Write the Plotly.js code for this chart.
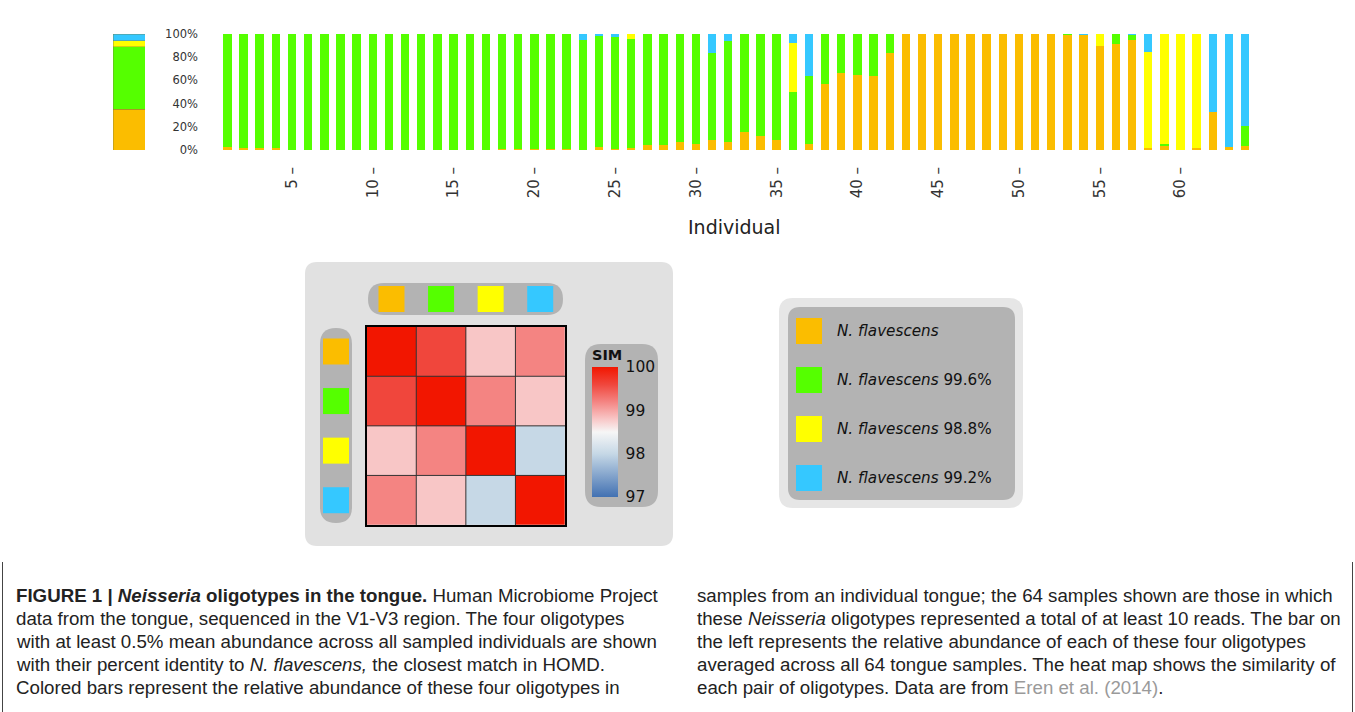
<!DOCTYPE html>
<html><head><meta charset="utf-8">
<script src="https://cdn.plot.ly/plotly-3.0.1.min.js"></script>
<style>html,body{margin:0;padding:0;background:#fff}#chart{width:1355px;height:712px}</style>
</head><body><div id="chart"></div>
<script>
const W = 1355, H = 712;

// ---------- data ----------
const individuals = [1,2,3,4,5,6,7,8,9,10,11,12,13,14,15,16,17,18,19,20,21,22,23,24,25,26,27,28,29,30,31,32,
  33,34,35,36,37,38,39,40,41,42,43,44,45,46,47,48,49,50,51,52,53,54,55,56,57,58,59,60,61,62,63,64];
const speciesName = 'N. flavescens';
const identityLabels = ['', '99.6%', '98.8%', '99.2%'];
const oligoColors = ['#FBBD00', '#55FF00', '#FFFF00', '#35C8FF'];

const orangeAbund = [2.6,2,2,2,0,0,0,0,0,0,0,0,0,0,0,0,0,0.5,0.5,0.5,0.5,0.5,0,2.6,1,2,4.3,4.3,6.6,5.5,8.3,6.6,
  15.5,12,9,0,5.2,56.6,66.4,64.6,64,83.6,100,100,100,100,100,100,100,100,100,100,99,99.4,90,91,95.1,1.5,3.4,0,1.7,33,2.6,3.2];
const greenAbund = [97.4,98,98,98,100,100,100,100,100,100,100,100,100,100,100,100,100,99.5,99.5,99.5,99.5,99.5,94.8,96,96.4,94,95.7,95.7,93.4,94.5,75.3,87.7,
  84.5,88,91,50.3,58.3,43.4,33.6,35.4,36,16.4,0,0,0,0,0,0,0,0,0,0,1,0,0,9,3.7,0,1.7,0,0,0,0,17.8];
const yellowAbund = [0,0,0,0,0,0,0,0,0,0,0,0,0,0,0,0,0,0,0,0,0,0,0,0,0,4,0,0,0,0,0,0,
  0,0,0,42.2,0,0,0,0,0,0,0,0,0,0,0,0,0,0,0,0,0,0,10,0,0,82.7,94.9,100,98.3,0,0,0];
const blueAbund = [0,0,0,0,0,0,0,0,0,0,0,0,0,0,0,0,0,0,0,0,0,0,5.2,1.4,2.6,0,0,0,0,0,16.4,5.7,
  0,0,0,7.5,36.5,0,0,0,0,0,0,0,0,0,0,0,0,0,0,0,0,0.6,0,0,1.2,15.8,0,0,0,67,97.4,79];
const meanAbund = [35, 54, 5, 6];

const xTickVals = [5,10,15,20,25,30,35,40,45,50,55,60];
const xTickText = ['5 –','10 –','15 –','20 –','25 –','30 –','35 –','40 –','45 –','50 –','55 –','60 –'];
const yTickVals = [0,20,40,60,80,100];
const yTickText = ['0%','20%','40%','60%','80%','100%'];

const simMatrix = [
  [100, 99.6, 98.8, 99.2],
  [99.6, 100, 99.2, 98.8],
  [98.8, 99.2, 100, 98.0],
  [99.2, 98.8, 98.0, 100]
];
const simTicks = [97, 98, 99, 100];

const captionLeft = [
  '<b>FIGURE 1 | <i>Neisseria</i> oligotypes in the tongue.</b> Human Microbiome Project',
  'data from the tongue, sequenced in the V1-V3 region. The four oligotypes',
  'with at least 0.5% mean abundance across all sampled individuals are shown',
  'with their percent identity to <i>N. flavescens,</i> the closest match in HOMD.',
  'Colored bars represent the relative abundance of these four oligotypes in'
];
const captionRight = [
  'samples from an individual tongue; the 64 samples shown are those in which',
  'these <i>Neisseria</i> oligotypes represented a total of at least 10 reads. The bar on',
  'the left represents the relative abundance of each of these four oligotypes',
  'averaged across all 64 tongue samples. The heat map shows the similarity of',
  'each pair of oligotypes. Data are from <span style="color:#9a9a9a">Eren et al. (2014)</span>.'
];

// ---------- helpers ----------
const px = v => v / W;
const py = v => 1 - v / H;
function rr(x0, y0, x1, y1, r) {
  const X = v => px(v).toFixed(5), Y = v => py(v).toFixed(5);
  return `M ${X(x0 + r)},${Y(y0)} L ${X(x1 - r)},${Y(y0)} Q ${X(x1)},${Y(y0)} ${X(x1)},${Y(y0 + r)} ` +
    `L ${X(x1)},${Y(y1 - r)} Q ${X(x1)},${Y(y1)} ${X(x1 - r)},${Y(y1)} L ${X(x0 + r)},${Y(y1)} ` +
    `Q ${X(x0)},${Y(y1)} ${X(x0)},${Y(y1 - r)} L ${X(x0)},${Y(y0 + r)} Q ${X(x0)},${Y(y0)} ${X(x0 + r)},${Y(y0)} Z`;
}
function panel(x0, y0, x1, y1, r, color) {
  return { type: 'path', xref: 'paper', yref: 'paper', path: rr(x0, y0, x1, y1, r),
    fillcolor: color, line: { width: 0 }, layer: 'below' };
}
function box(x0, y0, x1, y1, color) {
  return { type: 'rect', xref: 'paper', yref: 'paper', x0: px(x0), x1: px(x1), y0: py(y1), y1: py(y0),
    fillcolor: color, line: { width: 0 }, layer: 'above' };
}

// ---------- geometry ----------
const mainL = 219.3, mainR = 1253.2, plotTop = 34, plotBot = 150;
const hmL = 366.7, hmR = 565, hmT = 326.7, hmB = 525;
const cell = (hmR - hmL) / 4;
const sw = 26;
const cbTop = 370, cbBot = 497;

const series = [orangeAbund, greenAbund, yellowAbund, blueAbund];
const traces = [];
series.forEach((vals, i) => {
  traces.push({ type: 'bar', x: individuals, y: vals, width: 0.52, marker: { color: oligoColors[i], line: { width: 0 } },
    xaxis: 'x', yaxis: 'y', showlegend: false, hoverinfo: 'x+y' });
});
meanAbund.forEach((v, i) => {
  traces.push({ type: 'bar', x: [0], y: [v], width: 1, marker: { color: oligoColors[i], line: { width: 0.6, color: 'rgba(120,120,60,0.6)' } },
    xaxis: 'x2', yaxis: 'y2', showlegend: false, hoverinfo: 'y' });
});
traces.push({
  type: 'heatmap', z: simMatrix, x: [0, 1, 2, 3], y: [0, 1, 2, 3], xaxis: 'x3', yaxis: 'y3',
  zmin: 97, zmax: 100,
  colorscale: [
    [0, 'rgb(66,113,178)'],
    [0.333, 'rgb(198,216,230)'],
    [0.5, 'rgb(246,246,246)'],
    [0.6, 'rgb(248,198,198)'],
    [0.733, 'rgb(244,132,130)'],
    [0.867, 'rgb(240,70,60)'],
    [1, 'rgb(242,22,0)']
  ],
  colorbar: {
    x: px(592), xanchor: 'left', xref: 'paper', y: py(cbBot), yanchor: 'bottom', yref: 'paper',
    len: cbBot - cbTop + 24, lenmode: 'pixels', thickness: 26, thicknessmode: 'pixels', xpad: 0, ypad: 0,
    outlinewidth: 0, borderwidth: 0, bgcolor: 'rgba(0,0,0,0)',
    tickvals: simTicks, ticks: 'outside', ticklen: 5, tickcolor: 'rgba(0,0,0,0)',
    tickfont: { family: 'DejaVu Sans', size: 15.5, color: '#111' },
    title: { text: '<b>SIM</b>', side: 'top', font: { family: 'DejaVu Sans', size: 14.5, color: '#111' } }
  },
  hoverinfo: 'z'
});

// ---------- shapes ----------
const shapes = [];
shapes.push(panel(305, 262, 673, 546, 12, '#e1e1e1'));
shapes.push(panel(368, 283, 563, 315, 16, '#b3b3b3'));
shapes.push(panel(320, 328, 352, 523, 16, '#b3b3b3'));
shapes.push(panel(585, 344, 658, 507, 16, '#b3b3b3'));
shapes.push(panel(779, 298, 1023, 508, 14, '#e6e6e6'));
shapes.push(panel(788, 307, 1015, 500, 12, '#b3b3b3'));
oligoColors.forEach((c, i) => {
  const cx = hmL + cell * (i + 0.5);
  shapes.push(box(cx - sw / 2, 286, cx + sw / 2, 312, c));
  const cy = hmT + cell * (i + 0.5);
  shapes.push(box(323, cy - sw / 2, 349, cy + sw / 2, c));
  const ly = 331 + 49 * i;
  shapes.push(box(796, ly - sw / 2, 822, ly + sw / 2, c));
});
for (let k = 0; k < simMatrix.length - 1; k++) {
  shapes.push({ type: 'line', xref: 'x3', yref: 'y3', x0: k + 0.5, x1: k + 0.5, y0: -0.5, y1: 3.5, line: { color: '#333', width: 1 } });
  shapes.push({ type: 'line', xref: 'x3', yref: 'y3', y0: k + 0.5, y1: k + 0.5, x0: -0.5, x1: 3.5, line: { color: '#333', width: 1 } });
}
// small white tick dashes inside the colour bar
simTicks.forEach(v => {
  const yy = cbBot - (v - 97) / 3 * (cbBot - cbTop);
  const yv = Math.min(Math.max(yy, cbTop + 2), cbBot - 2);
  shapes.push({ type: 'line', xref: 'paper', yref: 'paper', x0: px(593), x1: px(597), y0: py(yv), y1: py(yv), line: { color: 'rgba(255,255,255,0.8)', width: 1 } });
  shapes.push({ type: 'line', xref: 'paper', yref: 'paper', x0: px(613), x1: px(617), y0: py(yv), y1: py(yv), line: { color: 'rgba(255,255,255,0.8)', width: 1 } });
});
shapes.push({ type: 'line', xref: 'paper', yref: 'paper', x0: px(2.5), x1: px(2.5), y0: py(562), y1: 0, line: { color: '#444', width: 1 } });
shapes.push({ type: 'line', xref: 'paper', yref: 'paper', x0: px(1352.5), x1: px(1352.5), y0: py(562), y1: 0, line: { color: '#444', width: 1 } });

// ---------- annotations ----------
const annotations = [];
annotations.push({ text: 'Individual', xref: 'paper', yref: 'paper', x: px(734), y: py(227), xanchor: 'center', yanchor: 'middle',
  showarrow: false, font: { family: 'DejaVu Sans', size: 19, color: '#222' } });
identityLabels.forEach((lab, i) => {
  annotations.push({ text: '<i>' + speciesName + '</i>' + (lab ? ' ' + lab : ''), xref: 'paper', yref: 'paper',
    x: px(835), y: py(331 + 49 * i), xanchor: 'left', yanchor: 'middle', showarrow: false,
    font: { family: 'DejaVu Sans', size: 15.2, color: '#111' } });
});
const capFont = { family: 'Liberation Sans', size: 18.7, color: '#222' };
captionLeft.forEach((t, i) => {
  annotations.push({ text: t, xref: 'paper', yref: 'paper', x: px(14), y: py(595.5 + 23 * i), xanchor: 'left', yanchor: 'middle',
    showarrow: false, font: capFont });
});
captionRight.forEach((t, i) => {
  annotations.push({ text: t, xref: 'paper', yref: 'paper', x: px(695), y: py(595.5 + 23 * i), xanchor: 'left', yanchor: 'middle',
    showarrow: false, font: capFont });
});

const layout = {
  width: W, height: H, margin: { l: 0, r: 0, t: 0, b: 0 },
  paper_bgcolor: '#ffffff', plot_bgcolor: 'rgba(0,0,0,0)',
  barmode: 'stack', showlegend: false,
  xaxis: { domain: [px(mainL), px(mainR)], range: [0.5, 64.5], anchor: 'y',
    tickmode: 'array', tickvals: xTickVals, ticktext: xTickText, tickangle: -90,
    ticks: 'outside', ticklen: 10, tickcolor: 'rgba(0,0,0,0)',
    tickfont: { family: 'DejaVu Sans', size: 15, color: '#333' },
    showgrid: false, zeroline: false, showline: false, fixedrange: true },
  yaxis: { domain: [py(plotBot), py(plotTop)], range: [0, 100], anchor: 'x',
    tickmode: 'array', tickvals: yTickVals, ticktext: yTickText,
    ticks: 'outside', ticklen: 18, tickcolor: 'rgba(0,0,0,0)',
    tickfont: { family: 'DejaVu Sans', size: 11.5, color: '#333' },
    showgrid: false, zeroline: false, showline: false },
  xaxis2: { domain: [px(113), px(145)], range: [-0.5, 0.5], anchor: 'y2', visible: false },
  yaxis2: { domain: [py(plotBot), py(plotTop)], range: [0, 100], anchor: 'x2', visible: false },
  xaxis3: { domain: [px(hmL), px(hmR)], range: [-0.5, 3.5], anchor: 'y3', showticklabels: false, ticks: '',
    showgrid: false, zeroline: false, showline: true, mirror: true, linecolor: '#000', linewidth: 2 },
  yaxis3: { domain: [py(hmB), py(hmT)], range: [3.5, -0.5], anchor: 'x3', showticklabels: false, ticks: '',
    showgrid: false, zeroline: false, showline: true, mirror: true, linecolor: '#000', linewidth: 2 },
  shapes: shapes, annotations: annotations
};

Plotly.newPlot('chart', traces, layout, { displayModeBar: false, staticPlot: true });
</script>
</body></html>
